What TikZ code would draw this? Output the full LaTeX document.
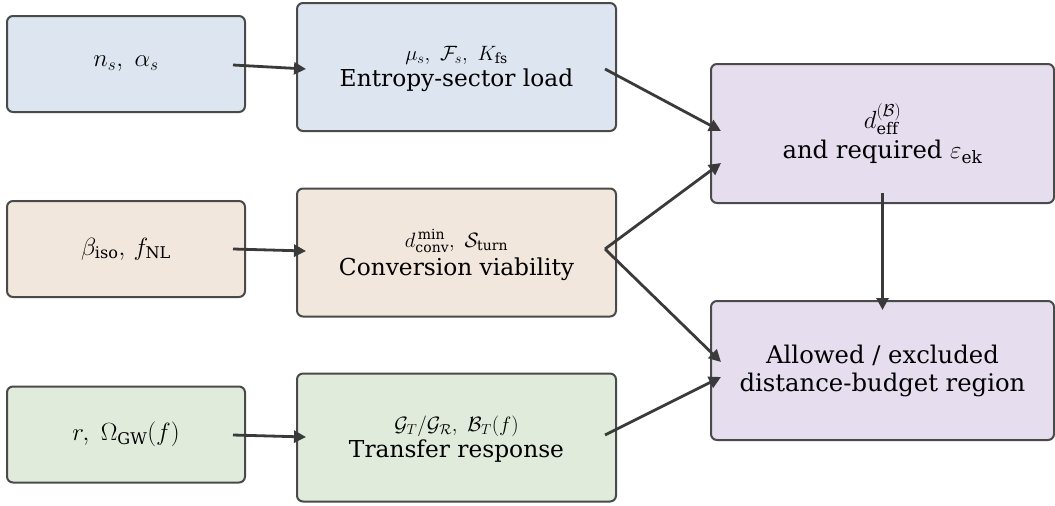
\documentclass[tikz,border=0pt]{standalone}
\usepackage{fontspec}
\setmainfont{DejaVu Serif}
\usetikzlibrary{arrows.meta,calc}
\definecolor{cblue}{HTML}{DCE5F0}
\definecolor{cbeige}{HTML}{F2E7DC}
\definecolor{cgreen}{HTML}{E0EBDC}
\definecolor{cpurple}{HTML}{E6DEEF}
\definecolor{cborder}{HTML}{4A4A4A}
\definecolor{carrow}{HTML}{3A3A3A}
\begin{document}
\begin{tikzpicture}[x=1pt,y=-1pt,
  box/.style={draw=cborder, line width=2pt, rounded corners=6pt, align=center, inner sep=0pt},
  leftbox/.style={box, minimum width=238pt, minimum height=96pt, font=\fontsize{23}{27}\selectfont},
  midbox/.style={box, minimum width=319pt, minimum height=128pt},
  midtext/.style={align=center, inner sep=0pt, font=\fontsize{23.3}{26}\selectfont},
  rightbox/.style={box, minimum width=343pt, minimum height=139pt, font=\fontsize{24.3}{28}\selectfont},
  conn/.style={draw=carrow, line width=2.8pt, -{Triangle[length=12pt,width=12pt]}}
]
\useasboundingbox (0,0) rectangle (1055,506);
\node[leftbox, fill=cblue] (L1) at (126,64) {$n_s,\ \alpha_s$};
\node[leftbox, fill=cbeige] (L2) at (126,249) {$\beta_{\mathrm{iso}},\, f_{\mathrm{NL}}$};
\node[leftbox, fill=cgreen] (L3) at (126,434.5) {$r,\ \Omega_{\mathrm{GW}}(f)$};
\node[midbox, fill=cblue] (M1) at (456.5,67) {};
\node[midbox, fill=cbeige] (M2) at (456.5,252.5) {};
\node[midbox, fill=cgreen] (M3) at (456.5,437.5) {};
\node[midtext] (M1t) at ($(M1.center)+(0,2)$) {{\fontsize{20}{22}\selectfont$\mu_s,\ \mathcal{F}_s,\ K_{\mathrm{fs}}$}\\Entropy-sector load};
\node[midtext] (M2t) at ($(M2.center)+(0,2.5)$) {{\fontsize{20}{22}\selectfont$d_{\mathrm{conv}}^{\,\mathrm{min}},\ \mathcal{S}_{\mathrm{turn}}$}\\[2pt]Conversion viability};
\node[midtext] (M3t) at ($(M3.center)+(0,1.5)$) {{\fontsize{20}{22}\selectfont$\mathcal{G}_T/\mathcal{G}_{\mathcal{R}},\ \mathcal{B}_T(f)$}\\Transfer response};
\node[rightbox, fill=cpurple] (R1) at (882.5,133.5) {{\fontsize{23}{25}\selectfont$d_{\mathrm{eff}}^{(\mathcal{B})}$}\\[2pt]and required $\varepsilon_{\mathrm{ek}}$};
\node[rightbox, fill=cpurple] (R2) at (882.5,370.5) {Allowed / excluded\\distance-budget region};
\draw[conn] ($(L1.east)+(-13,1)$) -- ($(M1.west)+(10,2)$);
\draw[conn] ($(L2.east)+(-13,0)$) -- ($(M2.west)+(10,-1.5)$);
\draw[conn] ($(L3.east)+(-13,0.5)$) -- ($(M3.west)+(10,-0.5)$);
\draw[conn] ($(M1.east)+(-12,2)$) -- ($(R1.west)+(11,-2.5)$);
\draw[conn] ($(M2.east)+(-12,-3.5)$) -- ($(R1.west)+(11,29.5)$);
\draw[conn] ($(M2.east)+(-12,-3.5)$) -- ($(R2.west)+(11,-8.5)$);
\draw[conn] ($(M3.east)+(-12,-2.5)$) -- ($(R2.west)+(11,6.5)$);
\draw[conn] ($(R1.south)+(0,-11)$) -- ($(R2.north)+(0,10)$);
\end{tikzpicture}
\end{document}
